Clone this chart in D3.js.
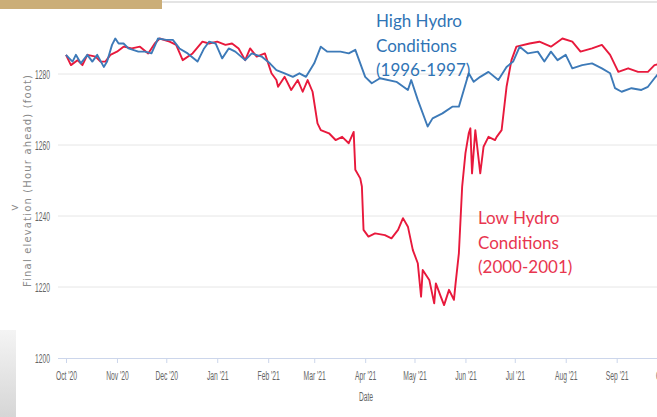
<!DOCTYPE html>
<html><head><meta charset="utf-8">
<script src="https://cdn.jsdelivr.net/npm/d3@7"></script>
<style>html,body{margin:0;padding:0;background:#fff;overflow:hidden}</style>
</head><body>
<svg id="chart" width="657" height="417"></svg>
<script>
// ---- data ----
const highDates = ["2020-10-01","2020-10-03","2020-10-05","2020-10-07","2020-10-10","2020-10-14","2020-10-17","2020-10-20","2020-10-24","2020-10-26","2020-10-29","2020-10-31",
"2020-11-02","2020-11-05","2020-11-08","2020-11-14","2020-11-18","2020-11-22","2020-11-26",
"2020-12-01","2020-12-05","2020-12-09","2020-12-14","2020-12-20","2020-12-24","2020-12-27","2020-12-31",
"2021-01-04","2021-01-08","2021-01-12","2021-01-18","2021-01-22","2021-01-28",
"2021-02-02","2021-02-06","2021-02-11","2021-02-16","2021-02-20","2021-02-24","2021-03-01",
"2021-03-05","2021-03-09","2021-03-17","2021-03-22","2021-03-26","2021-04-01",
"2021-04-05","2021-04-10","2021-04-20","2021-04-27","2021-04-29",
"2021-05-03","2021-05-09","2021-05-12","2021-05-18","2021-05-24","2021-05-28","2021-05-31",
"2021-06-03","2021-06-06","2021-06-10","2021-06-15","2021-06-21","2021-06-26","2021-06-30",
"2021-07-04","2021-07-09","2021-07-15","2021-07-19","2021-07-23","2021-07-27","2021-08-01",
"2021-08-05","2021-08-11","2021-08-17","2021-08-23","2021-08-28","2021-08-31",
"2021-09-04","2021-09-10","2021-09-16","2021-09-20","2021-09-24","2021-09-27"];
const highValues = [1285.4,1284.4,1283.5,1285.4,1283.0,1285.4,1283.5,1285.4,1282.0,1283.5,1288.2,1290.0,
1288.6,1288.6,1287.2,1286.3,1286.3,1285.8,1290.0,
1289.6,1289.6,1287.2,1285.8,1283.5,1287.2,1289.1,1288.6,
1284.4,1287.2,1286.3,1283.9,1285.8,1284.9,
1283.0,1281.1,1280.2,1279.2,1280.2,1279.2,1283.0,
1287.7,1286.3,1286.3,1285.8,1286.8,1279.2,
1277.4,1278.8,1277.8,1275.5,1278.3,
1272.7,1265.2,1267.5,1268.9,1270.8,1270.8,1275.5,
1280.2,1277.8,1279.2,1280.6,1278.3,1282.0,1283.5,
1287.7,1285.8,1286.3,1283.5,1286.3,1283.9,1285.4,
1281.6,1282.5,1283.0,1281.6,1280.2,1276.0,
1275.0,1276.0,1275.5,1276.4,1278.8,1280.5];

const lowDates = ["2020-10-01","2020-10-04","2020-10-08","2020-10-11","2020-10-14","2020-10-19","2020-10-22","2020-10-25","2020-10-28",
"2020-11-01","2020-11-05","2020-11-10","2020-11-15","2020-11-20","2020-11-24","2020-11-27",
"2020-12-03","2020-12-07","2020-12-11","2020-12-17","2020-12-23","2020-12-27",
"2021-01-01","2021-01-06","2021-01-10","2021-01-14","2021-01-18","2021-01-21","2021-01-25","2021-01-30",
"2021-02-03","2021-02-06","2021-02-07","2021-02-11","2021-02-15","2021-02-19","2021-02-22","2021-02-25","2021-02-28",
"2021-03-03","2021-03-05","2021-03-10","2021-03-14","2021-03-18","2021-03-22","2021-03-25","2021-03-26","2021-03-29","2021-03-30","2021-03-31",
"2021-04-03","2021-04-07","2021-04-13","2021-04-17","2021-04-21","2021-04-24","2021-04-27","2021-04-30",
"2021-05-03","2021-05-05","2021-05-06","2021-05-10","2021-05-13","2021-05-14","2021-05-17","2021-05-19","2021-05-22","2021-05-25","2021-05-26","2021-05-28","2021-05-30",
"2021-06-01","2021-06-03","2021-06-04","2021-06-05","2021-06-07","2021-06-10","2021-06-12","2021-06-15","2021-06-19","2021-06-20","2021-06-23","2021-06-26","2021-06-29",
"2021-07-02","2021-07-10","2021-07-16","2021-07-23","2021-07-30",
"2021-08-05","2021-08-10","2021-08-17","2021-08-23","2021-08-28",
"2021-09-02","2021-09-08","2021-09-14","2021-09-20","2021-09-24","2021-09-27"];
const lowValues = [1285.4,1282.5,1283.9,1282.5,1285.4,1284.9,1283.5,1283.5,1285.4,
1286.3,1287.7,1287.2,1287.7,1285.8,1288.6,1290.0,
1289.1,1288.2,1283.9,1285.8,1289.1,1288.6,
1289.1,1288.2,1288.6,1287.2,1283.9,1287.2,1284.9,1285.8,
1280.2,1278.3,1276.4,1279.2,1275.5,1278.3,1275.0,1278.3,1275.0,
1266.1,1264.2,1263.3,1261.4,1262.3,1260.5,1263.7,1253.0,1250.6,1248.3,1236.1,
1234.2,1235.1,1234.6,1233.7,1236.1,1239.4,1237.0,1230.4,
1226.7,1217.3,1224.8,1222.0,1215.4,1221.0,1217.3,1214.9,1219.2,1216.4,1221.0,1229.5,1248.3,
1257.7,1263.3,1264.7,1252.0,1264.2,1252.0,1259.5,1262.3,1261.4,1262.3,1264.2,1276.4,1283.9,
1287.7,1288.6,1289.1,1287.7,1290.0,
1289.1,1286.3,1287.2,1288.2,1285.4,
1280.6,1281.6,1280.6,1280.6,1282.5,1282.8];

const yTicks = [1200, 1220, 1240, 1260, 1280];
const xTickDates = ["2020-10-01","2020-11-01","2020-12-01","2021-01-01","2021-02-01","2021-03-01","2021-04-01","2021-05-01","2021-06-01","2021-07-01","2021-08-01","2021-09-01","2021-10-01"];
const xTickLabels = ["Oct '20","Nov '20","Dec '20","Jan '21","Feb '21","Mar '21","Apr '21","May '21","Jun '21","Jul '21","Aug '21","Sep '21","Oct '21"];
const highLabel = ["High Hydro","Conditions","(1996-1997)"];
const lowLabel = ["Low Hydro","Conditions","(2000-2001)"];

// ---- chart ----
const parse = d3.utcParse("%Y-%m-%d");
const svg = d3.select("#chart");
const W = 657, H = 417;

// decorations (page chrome)
svg.append("rect").attr("x",0).attr("y",0).attr("width",162).attr("height",9).attr("fill","#cbae78");
svg.append("rect").attr("x",162).attr("y",1).attr("width",W-162).attr("height",2).attr("fill","#e4e4e4");
const defs = svg.append("defs");
const g1 = defs.append("linearGradient").attr("id","lg").attr("x1",0).attr("y1",0).attr("x2",0).attr("y2",1);
g1.append("stop").attr("offset","0%").attr("stop-color","#f4f4f4");
g1.append("stop").attr("offset","100%").attr("stop-color","#d6d6d6");
svg.append("rect").attr("x",0).attr("y",330).attr("width",16).attr("height",H-330).attr("fill","url(#lg)");

const x = d3.scaleUtc().domain([parse("2020-10-01"), parse("2021-10-01")]).range([66, 666]);
const y = d3.scaleLinear().domain([1200, 1300]).range([358, 3]);
const plotLeft = 58, plotRight = W;

const axisFont = "'Liberation Sans',sans-serif";
const sx = 0.5; // horizontal squeeze to mimic the condensed face
const axisSize = "13.5px";

// grid lines
svg.append("g").selectAll("line").data(yTicks.filter(t => t !== 1200)).join("line")
  .attr("x1", plotLeft).attr("x2", plotRight)
  .attr("y1", d => y(d)).attr("y2", d => y(d))
  .attr("stroke", "#e6e6e6").attr("stroke-width", 1);

// y axis labels
const yAxis = d3.axisLeft(y).tickValues(yTicks).tickSize(0).tickPadding(8).tickFormat(d3.format("d"));
const gy = svg.append("g").attr("transform", `translate(${plotLeft},0)`).call(yAxis);
gy.select(".domain").remove();
gy.selectAll("text").attr("fill","#666").style("font-family", axisFont).style("font-size", axisSize)
  .attr("x", -8 / sx).attr("transform", `scale(${sx},1)`);

// x axis
const xAxis = d3.axisBottom(x).tickValues(xTickDates.map(parse)).tickSize(5).tickPadding(7)
  .tickFormat((d,i) => xTickLabels[i]);
const gx = svg.append("g").attr("transform", `translate(0,${y(1200)})`).call(xAxis);
gx.select(".domain").attr("d", `M${plotLeft},0.5H${plotRight}`).attr("stroke","#ccd6eb");
gx.selectAll(".tick line").attr("stroke","#ccd6eb");
gx.selectAll("text").attr("fill","#666").style("font-family", axisFont).style("font-size", axisSize)
  .attr("transform", `scale(${sx},1)`);

// axis titles
svg.append("text").attr("transform", `translate(366,401) scale(${sx},1)`).attr("text-anchor","middle")
  .attr("fill","#666").style("font-family", axisFont).style("font-size", axisSize).text("Date");
svg.append("text").attr("transform","translate(31,181) rotate(-90)").attr("text-anchor","middle")
  .attr("fill","#8a8a8a").style("font-family","'DejaVu Sans',sans-serif").style("font-size","10px")
  .attr("textLength", 212).attr("lengthAdjust","spacing")
  .text("Final elevation (Hour ahead) (foot)");
svg.append("text").attr("x", 15).attr("y", 211).attr("text-anchor","middle")
  .attr("fill","#888").style("font-family","'DejaVu Sans',sans-serif").style("font-size","10px").text(">");

// lines
const clip = defs.append("clipPath").attr("id","clip");
clip.append("rect").attr("x", plotLeft).attr("y", 0).attr("width", plotRight - plotLeft).attr("height", 360);
const line = d3.line().x(d => x(d[0])).y(d => y(d[1]));
const lowData = lowDates.map((d,i) => [parse(d), lowValues[i]]);
const highData = highDates.map((d,i) => [parse(d), highValues[i]]);
const lg = svg.append("g").attr("clip-path","url(#clip)");
lg.append("path").datum(lowData).attr("d", line).attr("fill","none")
  .attr("stroke","#e8193c").attr("stroke-width",1.9).attr("stroke-linejoin","round");
lg.append("path").datum(highData).attr("d", line).attr("fill","none")
  .attr("stroke","#3d7ab8").attr("stroke-width",1.9).attr("stroke-linejoin","round");

// annotations
const annFont = "'Lato','Open Sans',sans-serif";
svg.append("text").attr("fill","#2f74b5").style("font-family", annFont).style("font-size","17px")
  .selectAll("tspan").data(highLabel).join("tspan")
  .attr("x", 376).attr("y", (d,i) => 27 + i*24.5).text(d => d);
svg.append("text").attr("fill","#e8364f").style("font-family", annFont).style("font-size","17px")
  .selectAll("tspan").data(lowLabel).join("tspan")
  .attr("x", 478).attr("y", (d,i) => 224 + i*24.5).text(d => d);
</script>
</body></html>
